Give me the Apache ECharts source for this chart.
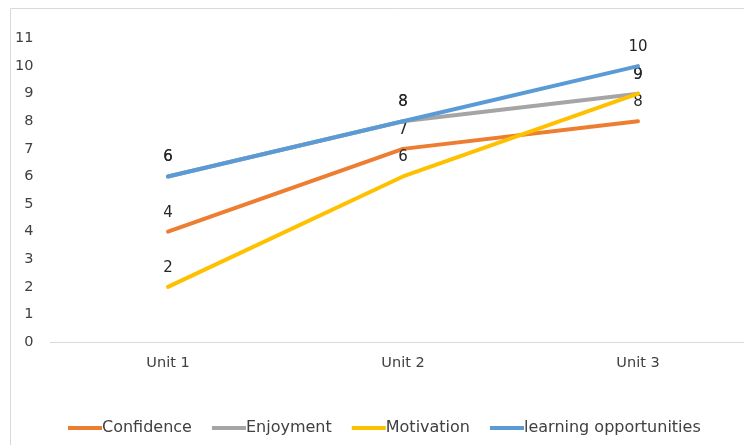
<!DOCTYPE html>
<html>
<head>
<meta charset="utf-8">
<script src="https://cdn.jsdelivr.net/npm/echarts@6/dist/echarts.min.js"></script>
<style>html,body{margin:0;padding:0;background:#fff;overflow:hidden;}#c{width:780px;height:445px;}</style>
</head>
<body>
<div id="c"></div>
<script>
const categories = ['Unit 1', 'Unit 2', 'Unit 3'];
const seriesNames = ['Confidence', 'Enjoyment', 'Motivation', 'learning opportunities'];
const confidence = [4, 7, 8];
const enjoyment = [6, 8, 9];
const motivation = [2, 6, 9];
const learningOpportunities = [6, 8, 10];
const colors = ['#ED7D31', '#A5A5A5', '#FFC000', '#5B9BD5'];
const values = [confidence, enjoyment, motivation, learningOpportunities];

const chart = echarts.init(document.getElementById('c'));
const font = "'DejaVu Sans', Verdana, sans-serif";
chart.setOption({
  animation: false,
  color: colors,
  graphic: [{
    type: 'rect',
    shape: { x: 10.5, y: 8.5, width: 800, height: 500 },
    style: { fill: 'none', stroke: '#d9d9d9', lineWidth: 1 },
    silent: true, z: -1
  }],
  grid: { left: 50.5, top: 38.5, right: 24.5, bottom: 103, containLabel: false },
  xAxis: {
    type: 'category',
    data: categories,
    boundaryGap: true,
    axisLine: { lineStyle: { color: '#d9d9d9', width: 1 } },
    axisTick: { show: false },
    axisLabel: { color: '#404040', fontSize: 14.5, fontFamily: font, margin: 14 }
  },
  yAxis: {
    type: 'value',
    min: 0, max: 11, interval: 1,
    splitLine: { show: false },
    axisLine: { show: false },
    axisTick: { show: false },
    axisLabel: { color: '#404040', fontSize: 14.5, fontFamily: font, margin: 17 }
  },
  legend: {
    left: 63, top: 415,
    itemWidth: 34, itemHeight: 4, itemGap: 20,
    icon: 'rect',
    textStyle: { color: '#404040', fontSize: 16, fontFamily: font, padding: [0, 0, 0, -5] },
    data: seriesNames.map((n, i) => ({ name: n, itemStyle: { color: colors[i], opacity: 1 } }))
  },
  series: seriesNames.map((n, i) => ({
    name: n,
    type: 'line',
    data: values[i],
    symbol: 'circle',
    symbolSize: 1,
    showSymbol: true,
    itemStyle: { color: colors[i], opacity: 0 },
    lineStyle: { width: 4, color: colors[i], cap: 'round', opacity: 1 },
    label: { show: true, position: 'top', distance: 11, color: '#262626', fontSize: 15, fontFamily: font, opacity: 1 },
    labelLayout: { hideOverlap: false },
    z: 2 + i
  }))
});
</script>
</body>
</html>
